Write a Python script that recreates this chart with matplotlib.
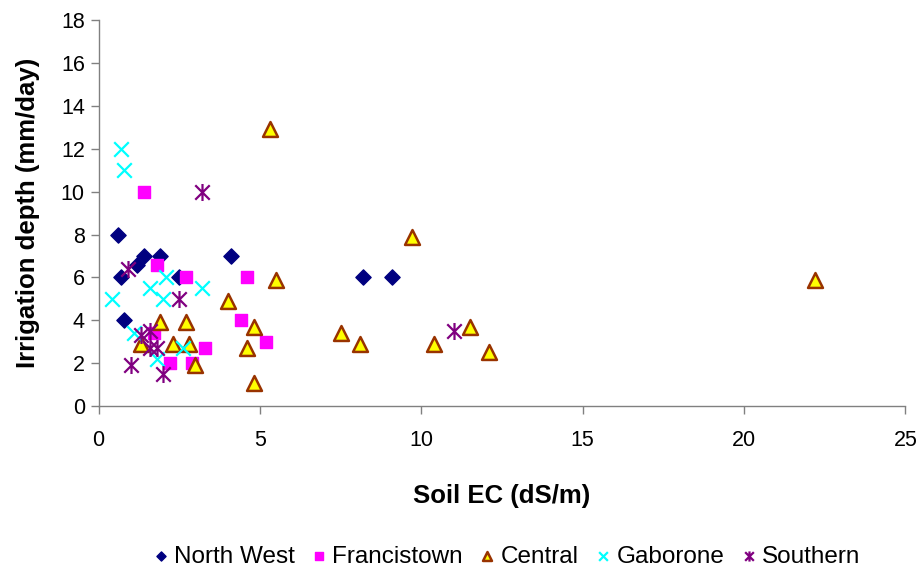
import matplotlib.pyplot as plt
from matplotlib.path import Path

plt.rcParams['font.family'] = ['Liberation Sans', 'DejaVu Sans']

# ---- data ----
nw_x = [0.6, 0.7, 0.8, 1.2, 1.4, 1.9, 2.5, 4.1, 8.2, 9.1]
nw_y = [8.0, 6.0, 4.0, 6.6, 7.0, 7.0, 6.0, 7.0, 6.0, 6.0]

fr_x = [1.4, 1.8, 2.7, 4.6, 4.4, 5.2, 3.3, 2.2, 2.9, 1.7]
fr_y = [10.0, 6.6, 6.0, 6.0, 4.0, 3.0, 2.7, 2.0, 2.0, 3.4]

ce_x = [5.3, 9.7, 5.5, 4.0, 4.8, 4.6, 4.8, 7.5, 8.1, 10.4, 11.5, 12.1, 22.2,
        1.9, 2.7, 1.3, 2.3, 2.8, 3.0]
ce_y = [12.9, 7.9, 5.9, 4.9, 3.7, 2.7, 1.1, 3.4, 2.9, 2.9, 3.7, 2.5, 5.9,
        3.9, 3.9, 2.9, 2.9, 2.9, 1.9]

ga_x = [0.7, 0.8, 0.4, 1.6, 2.1, 2.0, 3.2, 1.1, 2.6, 1.8]
ga_y = [12.0, 11.0, 5.0, 5.5, 6.0, 5.0, 5.5, 3.4, 2.7, 2.2]

so_x = [3.2, 0.9, 2.5, 1.3, 1.6, 1.6, 1.8, 1.0, 2.0, 11.0]
so_y = [10.0, 6.4, 5.0, 3.3, 3.5, 2.7, 2.7, 1.9, 1.5, 3.5]

series_names = ['North West', 'Francistown', 'Central', 'Gaborone', 'Southern']

# Excel-like asterisk: vertical bar plus an X
star = Path([(0, -1), (0, 1), (-0.85, -0.85), (0.85, 0.85), (-0.85, 0.85), (0.85, -0.85)],
            [Path.MOVETO, Path.LINETO, Path.MOVETO, Path.LINETO, Path.MOVETO, Path.LINETO])

fig = plt.figure(figsize=(9.22, 5.72), dpi=100)
ax = fig.add_axes([0.107, 0.29, 0.875, 0.675])

ax.scatter(nw_x, nw_y, marker='D', s=60, color='#000080', label=series_names[0], zorder=3)
ax.scatter(fr_x, fr_y, marker='s', s=80, color='#FF00FF', label=series_names[1], zorder=3)
ax.scatter(ce_x, ce_y, marker='^', s=115, facecolor='#FFFF00', edgecolor='#993300',
           linewidth=1.8, label=series_names[2], zorder=3)
ax.scatter(ga_x, ga_y, marker='x', s=110, color='#00FFFF', linewidth=1.6,
           label=series_names[3], zorder=3)
ax.scatter(so_x, so_y, marker=star, s=150, color='#800080', linewidth=1.6,
           label=series_names[4], zorder=3)

ax.set_xlim(0, 25)
ax.set_ylim(0, 18)
ax.set_xticks(range(0, 26, 5))
ax.set_yticks(range(0, 19, 2))

for side in ['top', 'right']:
    ax.spines[side].set_visible(False)
for side in ['left', 'bottom']:
    ax.spines[side].set_color('#808080')
    ax.spines[side].set_linewidth(1.0)
ax.tick_params(axis='both', direction='out', length=6, width=1, color='#808080',
               labelsize=15.5, pad=4)
ax.tick_params(axis='x', pad=11)

ax.set_xlabel('Soil EC (dS/m)', fontsize=18.5, fontweight='bold', labelpad=24)
ax.set_ylabel('Irrigation depth (mm/day)', fontsize=18.5, fontweight='bold', labelpad=15)

fig.legend(loc='center', bbox_to_anchor=(0.547, 0.027), ncol=5, frameon=False,
           fontsize=17.5, handletextpad=0.05, columnspacing=0.5, markerscale=0.6,
           handlelength=1.0)

fig.savefig('out.png', dpi=100)
